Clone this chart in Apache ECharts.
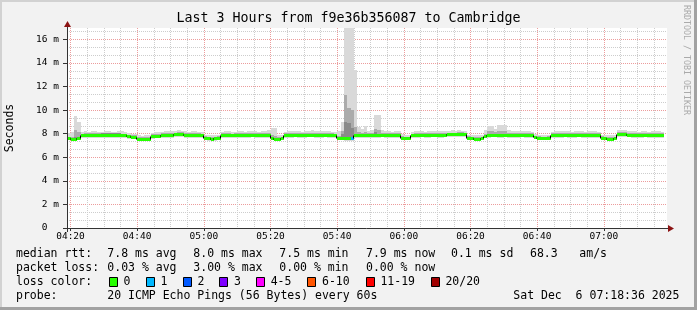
<!DOCTYPE html>
<html><head><meta charset="utf-8">
<script src="https://cdn.jsdelivr.net/npm/echarts@6/dist/echarts.min.js"></script>
<style>html,body{margin:0;padding:0;background:#f2f2f2}#c{width:697px;height:310px}</style>
</head><body><div id="c"></div>
<script>
// ---------- data (minutes after 04:00; one sample per minute) ----------
const START_MIN = 19;            // first sample 04:19
const X_MIN = 18.95, X_MAX = 198.95;
const xTickMinutes = [20, 40, 60, 80, 100, 120, 140, 160, 180];
const xTickLabels = ['04:20','04:40','05:00','05:20','05:40','06:00','06:20','06:40','07:00'];
const yTickValues = [0, 2, 4, 6, 8, 10, 12, 14, 16];
const yTickLabels = ['0  ','2 m','4 m','6 m','8 m','10 m','12 m','14 m','16 m'];
const Y_MAX = 16.96;

// median rtt (ms)
const medianMs = [
7.60,7.58,7.58,7.60,7.86,7.88,7.90,7.90,7.88,7.88,
7.86,7.88,7.90,7.90,7.88,7.88,7.86,7.86,7.76,7.74,
7.72,7.56,7.55,7.56,7.58,7.80,7.80,7.82,7.88,7.90,
7.90,7.88,7.94,7.96,7.96,7.90,7.88,7.88,7.90,7.88,
7.86,7.62,7.60,7.58,7.60,7.62,7.88,7.90,7.90,7.86,
7.88,7.90,7.90,7.88,7.90,7.92,7.90,7.88,7.90,7.90,
7.88,7.62,7.58,7.58,7.60,7.88,7.90,7.90,7.92,7.90,
7.88,7.90,7.92,7.92,7.90,7.88,7.90,7.92,7.90,7.88,
7.86,7.64,7.62,7.60,7.60,7.62,7.90,7.92,7.90,7.90,
7.88,7.90,7.90,7.90,7.92,7.90,7.90,7.88,7.90,7.90,
7.66,7.60,7.60,7.86,7.90,7.90,7.92,7.90,7.90,7.92,
7.92,7.90,7.90,7.92,7.94,7.94,7.94,7.96,7.96,7.94,
7.62,7.60,7.58,7.58,7.60,7.84,7.90,7.92,7.92,7.90,
7.90,7.92,7.90,7.88,7.90,7.90,7.92,7.90,7.90,7.88,
7.70,7.62,7.60,7.60,7.62,7.88,7.90,7.90,7.90,7.92,
7.90,7.88,7.90,7.92,7.90,7.88,7.90,7.90,7.90,7.88,
7.64,7.60,7.58,7.58,7.60,7.96,7.98,7.96,7.92,7.90,
7.90,7.88,7.90,7.92,7.90,7.88,7.90,7.90,7.90
];
// lost pings per sample (of 20)
const lossCount = [
0,0,0,0,0,0,0,0,0,0, 0,0,0,0,0,0,0,0,0,0, 0,0,0,0,0,0,0,0,0,0,
0,0,0,0,0,0,0,0,0,0, 0,0,0,0,0,0,0,0,0,0, 0,0,0,0,0,0,0,0,0,0,
0,0,0,0,0,0,0,0,0,0, 0,0,0,0,0,0,0,0,0,0, 0,0,0,0,0,1,0,0,0,0,
0,0,0,0,0,0,0,0,0,0, 0,0,0,0,0,0,0,0,0,0, 0,0,0,0,0,0,0,0,0,0,
0,0,0,0,0,0,0,0,0,0, 0,0,0,0,0,0,0,0,0,0, 0,0,0,0,0,0,0,0,0,0,
0,0,0,0,0,0,0,0,0,0, 0,0,0,0,0,0,0,0,0,0, 0,0,0,0,0,0,0,0,0
];
// smoke: outer envelope (min / max ping)
const smokeMin = [
7.44,7.42,7.44,7.46,7.62,7.64,7.65,7.64,7.62,7.64,
7.62,7.64,7.66,7.65,7.62,7.64,7.62,7.60,7.56,7.54,
7.52,7.40,7.40,7.42,7.44,7.58,7.60,7.62,7.64,7.65,
7.66,7.64,7.70,7.72,7.72,7.66,7.64,7.64,7.66,7.64,
7.62,7.44,7.42,7.40,7.42,7.44,7.64,7.66,7.66,7.62,
7.64,7.66,7.66,7.64,7.66,7.68,7.66,7.64,7.66,7.66,
7.62,7.44,7.42,7.42,7.44,7.64,7.66,7.66,7.68,7.66,
7.64,7.66,7.68,7.68,7.66,7.64,7.66,7.68,7.66,7.64,
7.62,7.46,7.44,7.40,7.38,7.40,7.60,7.66,7.66,7.66,
7.64,7.66,7.64,7.64,7.68,7.66,7.66,7.64,7.66,7.66,
7.48,7.44,7.44,7.62,7.66,7.66,7.68,7.66,7.66,7.68,
7.68,7.66,7.66,7.68,7.70,7.70,7.70,7.72,7.72,7.70,
7.46,7.44,7.42,7.42,7.44,7.60,7.66,7.68,7.68,7.66,
7.66,7.68,7.66,7.64,7.66,7.66,7.68,7.66,7.66,7.64,
7.52,7.46,7.44,7.44,7.46,7.64,7.66,7.66,7.66,7.68,
7.66,7.64,7.66,7.68,7.66,7.64,7.66,7.66,7.66,7.64,
7.48,7.44,7.42,7.42,7.44,7.72,7.74,7.72,7.68,7.66,
7.66,7.64,7.66,7.68,7.66,7.64,7.66,7.66,7.66
];
const smokeMax = [
8.05,8.10,9.50,9.00,8.15,8.20,8.18,8.22,8.20,8.15,
8.18,8.22,8.20,8.15,8.18,8.22,8.20,8.15,8.05,8.00,
7.98,7.85,7.82,7.86,7.88,8.05,8.10,8.12,8.18,8.20,
8.22,8.20,8.25,8.28,8.25,8.20,8.18,8.20,8.22,8.18,
8.15,7.90,7.86,7.85,7.88,7.92,8.18,8.22,8.20,8.15,
8.18,8.20,8.22,8.18,8.20,8.22,8.20,8.18,8.22,8.25,
8.30,8.45,8.45,7.90,7.88,8.18,8.20,8.22,8.22,8.20,
8.18,8.20,8.25,8.28,8.25,8.22,8.20,8.22,8.20,8.18,
8.15,8.20,9.00,25.0,22.0,19.0,13.40,8.60,8.40,8.65,
8.25,8.30,9.60,9.60,8.30,8.22,8.20,8.18,8.22,8.20,
7.95,7.88,7.86,8.15,8.20,8.22,8.20,8.18,8.22,8.20,
8.20,8.22,8.25,8.22,8.25,8.28,8.25,8.28,8.26,8.22,
7.92,7.88,7.86,7.88,7.90,8.30,8.65,8.65,8.40,8.70,
8.70,8.72,8.30,8.22,8.20,8.25,8.22,8.20,8.22,8.18,
7.98,7.88,7.86,7.86,7.90,8.15,8.20,8.22,8.20,8.22,
8.20,8.18,8.22,8.25,8.20,8.18,8.22,8.20,8.20,8.15,
7.92,7.88,7.86,7.86,7.90,8.30,8.32,8.28,8.22,8.20,
8.20,8.18,8.22,8.20,8.18,8.20,8.22,8.20,8.18
];
// smoke: middle band
const smokeMidLo = [
7.48,7.46,7.46,7.48,7.72,7.74,7.76,7.76,7.74,7.74,
7.72,7.74,7.76,7.76,7.74,7.74,7.72,7.72,7.62,7.60,
7.58,7.44,7.43,7.44,7.46,7.66,7.66,7.68,7.74,7.76,
7.76,7.74,7.80,7.82,7.82,7.76,7.74,7.74,7.76,7.74,
7.72,7.50,7.48,7.46,7.48,7.50,7.74,7.76,7.76,7.72,
7.74,7.76,7.76,7.74,7.76,7.78,7.76,7.74,7.76,7.76,
7.74,7.50,7.46,7.46,7.48,7.74,7.76,7.76,7.78,7.76,
7.74,7.76,7.78,7.78,7.76,7.74,7.76,7.78,7.76,7.74,
7.72,7.52,7.50,7.46,7.46,7.48,7.74,7.78,7.76,7.76,
7.74,7.76,7.76,7.76,7.78,7.76,7.76,7.74,7.76,7.76,
7.54,7.48,7.48,7.72,7.76,7.76,7.78,7.76,7.76,7.78,
7.78,7.76,7.76,7.78,7.80,7.80,7.80,7.82,7.82,7.80,
7.50,7.48,7.46,7.46,7.48,7.70,7.76,7.78,7.78,7.76,
7.76,7.78,7.76,7.74,7.76,7.76,7.78,7.76,7.76,7.74,
7.56,7.50,7.48,7.48,7.50,7.74,7.76,7.76,7.76,7.78,
7.76,7.74,7.76,7.78,7.76,7.74,7.76,7.76,7.76,7.74,
7.52,7.48,7.46,7.46,7.48,7.82,7.84,7.82,7.78,7.76,
7.76,7.74,7.76,7.78,7.76,7.74,7.76,7.76,7.76
];
const smokeMidHi = [
7.74,7.74,8.30,8.10,8.00,8.02,8.04,8.04,8.02,8.02,
8.00,8.02,8.04,8.04,8.02,8.02,8.00,8.00,7.90,7.88,
7.86,7.70,7.69,7.70,7.72,7.94,7.94,7.96,8.02,8.04,
8.04,8.02,8.08,8.10,8.10,8.04,8.02,8.02,8.04,8.02,
8.00,7.76,7.74,7.72,7.74,7.76,8.02,8.04,8.04,8.00,
8.02,8.04,8.04,8.02,8.04,8.06,8.04,8.02,8.04,8.04,
8.02,7.90,7.80,7.72,7.74,8.02,8.04,8.04,8.06,8.04,
8.02,8.04,8.06,8.06,8.04,8.02,8.04,8.06,8.04,8.02,
8.00,7.78,8.20,11.30,10.20,10.00,8.60,8.10,8.04,8.10,
8.02,8.06,8.40,8.30,8.06,8.04,8.04,8.02,8.04,8.04,
7.80,7.74,7.74,8.00,8.04,8.04,8.06,8.04,8.04,8.06,
8.06,8.04,8.04,8.06,8.08,8.08,8.08,8.10,8.10,8.08,
7.76,7.74,7.72,7.72,7.74,7.98,8.20,8.22,8.10,8.25,
8.25,8.20,8.06,8.02,8.04,8.04,8.06,8.04,8.04,8.02,
7.84,7.76,7.74,7.74,7.76,8.02,8.04,8.04,8.04,8.06,
8.04,8.02,8.04,8.06,8.04,8.02,8.04,8.04,8.04,8.02,
7.78,7.74,7.72,7.72,7.74,8.12,8.14,8.12,8.06,8.04,
8.04,8.02,8.04,8.06,8.04,8.02,8.04,8.04,8.04
];
// smoke: core band
const smokeCoreLo = [
7.52,7.50,7.50,7.52,7.78,7.80,7.82,7.82,7.80,7.80,
7.78,7.80,7.82,7.82,7.80,7.80,7.78,7.78,7.68,7.66,
7.64,7.48,7.47,7.48,7.50,7.72,7.72,7.74,7.80,7.82,
7.82,7.80,7.86,7.88,7.88,7.82,7.80,7.80,7.82,7.80,
7.78,7.54,7.52,7.50,7.52,7.54,7.80,7.82,7.82,7.78,
7.80,7.82,7.82,7.80,7.82,7.84,7.82,7.80,7.82,7.82,
7.80,7.54,7.50,7.50,7.52,7.80,7.82,7.82,7.84,7.82,
7.80,7.82,7.84,7.84,7.82,7.80,7.82,7.84,7.82,7.80,
7.78,7.56,7.54,7.52,7.52,7.54,7.82,7.84,7.82,7.82,
7.80,7.82,7.82,7.82,7.84,7.82,7.82,7.80,7.82,7.82,
7.58,7.52,7.52,7.78,7.82,7.82,7.84,7.82,7.82,7.84,
7.84,7.82,7.82,7.84,7.86,7.86,7.86,7.88,7.88,7.86,
7.54,7.52,7.50,7.50,7.52,7.76,7.82,7.84,7.84,7.82,
7.82,7.84,7.82,7.80,7.82,7.82,7.84,7.82,7.82,7.80,
7.62,7.54,7.52,7.52,7.54,7.80,7.82,7.82,7.82,7.84,
7.82,7.80,7.82,7.84,7.82,7.80,7.82,7.82,7.82,7.80,
7.56,7.52,7.50,7.50,7.52,7.88,7.90,7.88,7.84,7.82,
7.82,7.80,7.82,7.84,7.82,7.80,7.82,7.82,7.82
];
const smokeCoreHi = [
7.68,7.66,7.70,7.70,7.96,7.98,8.00,8.00,7.98,7.98,
8.02,8.04,8.06,8.06,8.04,8.02,7.96,7.96,7.84,7.82,
7.80,7.64,7.63,7.64,7.66,7.88,7.88,7.90,7.96,7.98,
7.98,7.96,8.02,8.04,8.04,7.98,7.96,7.96,7.98,7.96,
7.94,7.70,7.68,7.66,7.68,7.70,7.96,7.98,7.98,7.94,
7.96,7.98,7.98,7.96,7.98,8.00,7.98,7.96,7.98,7.98,
7.96,7.70,7.66,7.66,7.68,7.96,7.98,7.98,8.00,7.98,
7.96,7.98,8.00,8.00,7.98,7.96,7.98,8.00,7.98,7.96,
7.94,7.72,8.00,9.00,8.90,8.50,8.00,8.00,7.98,7.98,
7.96,7.98,8.10,8.00,8.00,7.98,7.98,7.96,7.98,7.98,
7.74,7.68,7.68,7.94,7.98,7.98,8.00,7.98,7.98,8.00,
8.00,7.98,7.98,8.00,8.02,8.02,8.02,8.04,8.04,8.02,
7.70,7.68,7.66,7.66,7.68,7.92,7.98,8.00,8.00,7.98,
7.98,8.00,7.98,7.96,7.98,7.98,8.00,7.98,7.98,7.96,
7.78,7.70,7.68,7.68,7.70,7.96,7.98,7.98,7.98,8.00,
7.98,7.96,7.98,8.00,7.98,7.96,7.98,7.98,7.98,7.96,
7.72,7.68,7.66,7.66,7.68,8.04,8.06,8.04,8.00,7.98,
7.98,7.96,7.98,8.00,7.98,7.96,7.98,7.98,7.98
];
const lossLabels = ['0','1','2','3','4-5','6-10','11-19','20/20'];
const lossColors = ['#26ff00','#00b8ff','#0059ff','#7e00ff','#ff00ff','#ff5500','#ff0000','#a10000'];
const lossUpper  = [0, 1, 2, 3, 5, 10, 19, 20];

const titleText = 'Last 3 Hours from f9e36b356087 to Cambridge';
const yAxisName = 'Seconds';
const rttRow  = ['median rtt:', '7.8 ms avg', '8.0 ms max', '7.5 ms min', '7.9 ms now', '0.1 ms sd', '68.3', 'am/s'];
const lossRow = ['packet loss:', '0.03 % avg', '3.00 % max', '0.00 % min', '0.00 % now'];
const lossColorLabel = 'loss color:';
const probeRow = ['probe:', '20 ICMP Echo Pings (56 Bytes) every 60s', 'Sat Dec  6 07:18:36 2025'];
const watermark = 'RRDTOOL / TOBI OETIKER';

// ---------- layout / style ----------
const FONT = "'DejaVu Sans Mono', monospace";
const GL = 67, GT = 28, GW = 600, GH = 200;
const MAJOR_COL = '#ec9c9c', MINOR_COL = '#cdcdcd';
const SMOKE_COLS = ['#d9d9d9', '#ababab', '#8a8a8a'];

function bucket(n) { for (let k = 0; k < lossUpper.length; k++) if (n <= lossUpper[k]) return k; return 7; }

const smokeData = medianMs.map((m, i) => [START_MIN + i, smokeMin[i], smokeMax[i], smokeMidLo[i], smokeMidHi[i], smokeCoreLo[i], smokeCoreHi[i]]);
const medData = medianMs.map((m, i) => [START_MIN + i, m, lossCount[i]]);

const minorX = [];
for (let v = 20; v < X_MAX; v += 5) if (v % 20 !== 0 && v > X_MIN) minorX.push(v);
const minorY = [];
for (let k = 0; k < 9; k++) for (let j = 1; j <= 2; j++) { const v = k * 2 + j * 2 / 3; if (v < Y_MAX) minorY.push(v); }

function renderSmoke(params, api) {
  const t = api.value(0);
  const cs = params.coordSys;
  const x0 = Math.round(api.coord([t, 0])[0]);
  const x1 = Math.round(api.coord([t + 1, 0])[0]);
  const top = cs.y, bot = cs.y + cs.height;
  const children = [];
  for (let b = 0; b < 3; b++) {
    let yHi = Math.round(api.coord([t, api.value(2 + 2 * b)])[1]);
    let yLo = Math.round(api.coord([t, api.value(1 + 2 * b)])[1]);
    yHi = Math.max(yHi, top); yLo = Math.min(yLo, bot);
    children.push({ type: 'rect', shape: { x: x0, y: yHi, width: x1 - x0, height: Math.max(1, yLo - yHi) }, style: { fill: SMOKE_COLS[b] } });
  }
  return { type: 'group', children };
}
function renderMedian(params, api) {
  const t = api.value(0);
  const x0 = Math.round(api.coord([t, 0])[0]);
  const x1 = Math.round(api.coord([t + 1, 0])[0]);
  const y = Math.round(api.coord([t, api.value(1)])[1]);
  return { type: 'rect', shape: { x: x0, y: y - 1, width: x1 - x0, height: 3 }, style: { fill: lossColors[bucket(api.value(2))] } };
}
function renderSteps(params, api) {
  const i = params.dataIndex;
  if (i >= medianMs.length - 1) return null;
  const t = api.value(0);
  const x1 = Math.round(api.coord([t + 1, 0])[0]) - 0.5;
  const ya = Math.round(api.coord([t, medianMs[i]])[1]) + 0.5;
  const yb = Math.round(api.coord([t, medianMs[i + 1]])[1]) + 0.5;
  if (ya === yb) return null;
  return { type: 'line', shape: { x1: x1, y1: ya, x2: x1, y2: yb }, style: { stroke: '#000', lineWidth: 1 } };
}

const graphics = [];
function txt(x, y, s, opt) {
  graphics.push(Object.assign({ type: 'text', x: x, y: y, silent: true,
    style: { text: s, font: '11.5px ' + FONT, fill: '#000', textAlign: 'left', textVerticalAlign: 'middle' } }, opt || {}));
}
// frame
graphics.push({ type: 'rect', silent: true, shape: { x: 0, y: 0, width: 697, height: 2 }, style: { fill: '#d2d2d2' } });
graphics.push({ type: 'rect', silent: true, shape: { x: 0, y: 0, width: 2, height: 310 }, style: { fill: '#d2d2d2' } });
graphics.push({ type: 'rect', silent: true, shape: { x: 694, y: 0, width: 3, height: 310 }, style: { fill: '#a2a2a2' } });
graphics.push({ type: 'rect', silent: true, shape: { x: 0, y: 307, width: 697, height: 3 }, style: { fill: '#a2a2a2' } });
// title
graphics.push({ type: 'text', x: 348.5, y: 19, silent: true, style: { text: titleText, font: '13.3px ' + FONT, fill: '#000', textAlign: 'center', textVerticalAlign: 'middle' } });
// y name
graphics.push({ type: 'text', x: 10.5, y: 128, rotation: Math.PI / 2, silent: true, style: { text: yAxisName, font: '11.5px ' + FONT, fill: '#000', textAlign: 'center', textVerticalAlign: 'middle' } });
// watermark
graphics.push({ type: 'text', x: 686.5, y: 60, rotation: -Math.PI / 2, silent: true, style: { text: watermark, font: '8.3px ' + FONT, fill: '#aaaaaa', textAlign: 'center', textVerticalAlign: 'middle' } });
// axis extensions and arrows
graphics.push({ type: 'line', silent: true, shape: { x1: 67.5, y1: 232, x2: 67.5, y2: 23 }, style: { stroke: '#333', lineWidth: 1 }, z: 10 });
graphics.push({ type: 'line', silent: true, shape: { x1: 63, y1: 228.5, x2: 670, y2: 228.5 }, style: { stroke: '#333', lineWidth: 1 }, z: 10 });
graphics.push({ type: 'polygon', silent: true, shape: { points: [[67.5, 21], [64, 27], [71, 27]] }, style: { fill: '#8c1414' }, z: 11 });
graphics.push({ type: 'polygon', silent: true, shape: { points: [[674, 228.5], [668, 225], [668, 232]] }, style: { fill: '#8c1414' }, z: 11 });
// legend rows
const rttX = [16, 107.3, 193.3, 279.3, 366, 451, 530, 579.3];
rttRow.forEach((s, k) => txt(rttX[k], 254.5, s));
lossRow.forEach((s, k) => txt(rttX[k], 268.5, s));
txt(16, 282, lossColorLabel);
const boxX = [108.7, 145.7, 182.7, 219.3, 256, 307.3, 365.7, 430.7];
lossLabels.forEach((s, k) => {
  graphics.push({ type: 'rect', silent: true, shape: { x: Math.round(boxX[k]) + 0.5, y: 277.5, width: 8, height: 9 }, style: { fill: lossColors[k], stroke: '#000', lineWidth: 1 } });
  txt(boxX[k] + 14.7, 282, s);
});
txt(16, 296.5, probeRow[0]);
txt(107.3, 296.5, probeRow[1]);
txt(513.3, 296.5, probeRow[2]);

const chart = echarts.init(document.getElementById('c'), null, { renderer: 'canvas' });
chart.setOption({
  backgroundColor: '#f2f2f2',
  animation: false,
  grid: { left: GL, top: GT, width: GW, height: GH, show: true, backgroundColor: '#ffffff', borderWidth: 0, containLabel: false, outerBoundsMode: 'none' },
  xAxis: [
    { type: 'value', min: X_MIN, max: X_MAX, position: 'bottom',
      axisLine: { show: false },
      axisTick: { show: true, customValues: xTickMinutes, length: 3, lineStyle: { color: '#333' } },
      axisLabel: { customValues: xTickMinutes, margin: 4, color: '#000', fontFamily: 'DejaVu Sans Mono', fontSize: 9.5,
        formatter: v => { const k = xTickMinutes.indexOf(Math.round(v)); return k >= 0 ? xTickLabels[k] : ''; } },
      splitLine: { show: true, lineStyle: { color: MAJOR_COL, type: [1, 1], width: 1 } } },
    { type: 'value', min: X_MIN, max: X_MAX, position: 'bottom',
      axisLine: { show: false }, axisTick: { show: false, customValues: minorX }, axisLabel: { show: false },
      splitLine: { show: true, lineStyle: { color: MINOR_COL, type: [1, 1], width: 1 } } }
  ],
  yAxis: [
    { type: 'value', min: 0, max: Y_MAX, position: 'left',
      axisLine: { show: false },
      axisTick: { show: true, customValues: yTickValues, length: 4, lineStyle: { color: '#333' } },
      axisLabel: { customValues: yTickValues, margin: 8, color: '#000', fontFamily: 'DejaVu Sans Mono', fontSize: 9.5,
        formatter: v => { const k = yTickValues.indexOf(Math.round(v)); return k >= 0 ? yTickLabels[k] : ''; } },
      splitLine: { show: true, lineStyle: { color: MAJOR_COL, type: [1, 1], width: 1 } } },
    { type: 'value', min: 0, max: Y_MAX, position: 'left',
      axisLine: { show: false }, axisTick: { show: false, customValues: minorY }, axisLabel: { show: false },
      splitLine: { show: true, lineStyle: { color: MINOR_COL, type: [1, 1], width: 1 } } }
  ],
  series: [
    { type: 'custom', name: 'smoke', xAxisIndex: 0, yAxisIndex: 0, renderItem: renderSmoke, data: smokeData, encode: { x: 0, y: [1, 2] }, silent: true },
    { type: 'custom', name: 'median', xAxisIndex: 0, yAxisIndex: 0, renderItem: renderMedian, data: medData, encode: { x: 0, y: 1 }, silent: true },
    { type: 'custom', name: 'steps', xAxisIndex: 0, yAxisIndex: 0, renderItem: renderSteps, data: medData, encode: { x: 0, y: 1 }, silent: true }
  ],
  graphic: graphics
});
</script></body></html>
